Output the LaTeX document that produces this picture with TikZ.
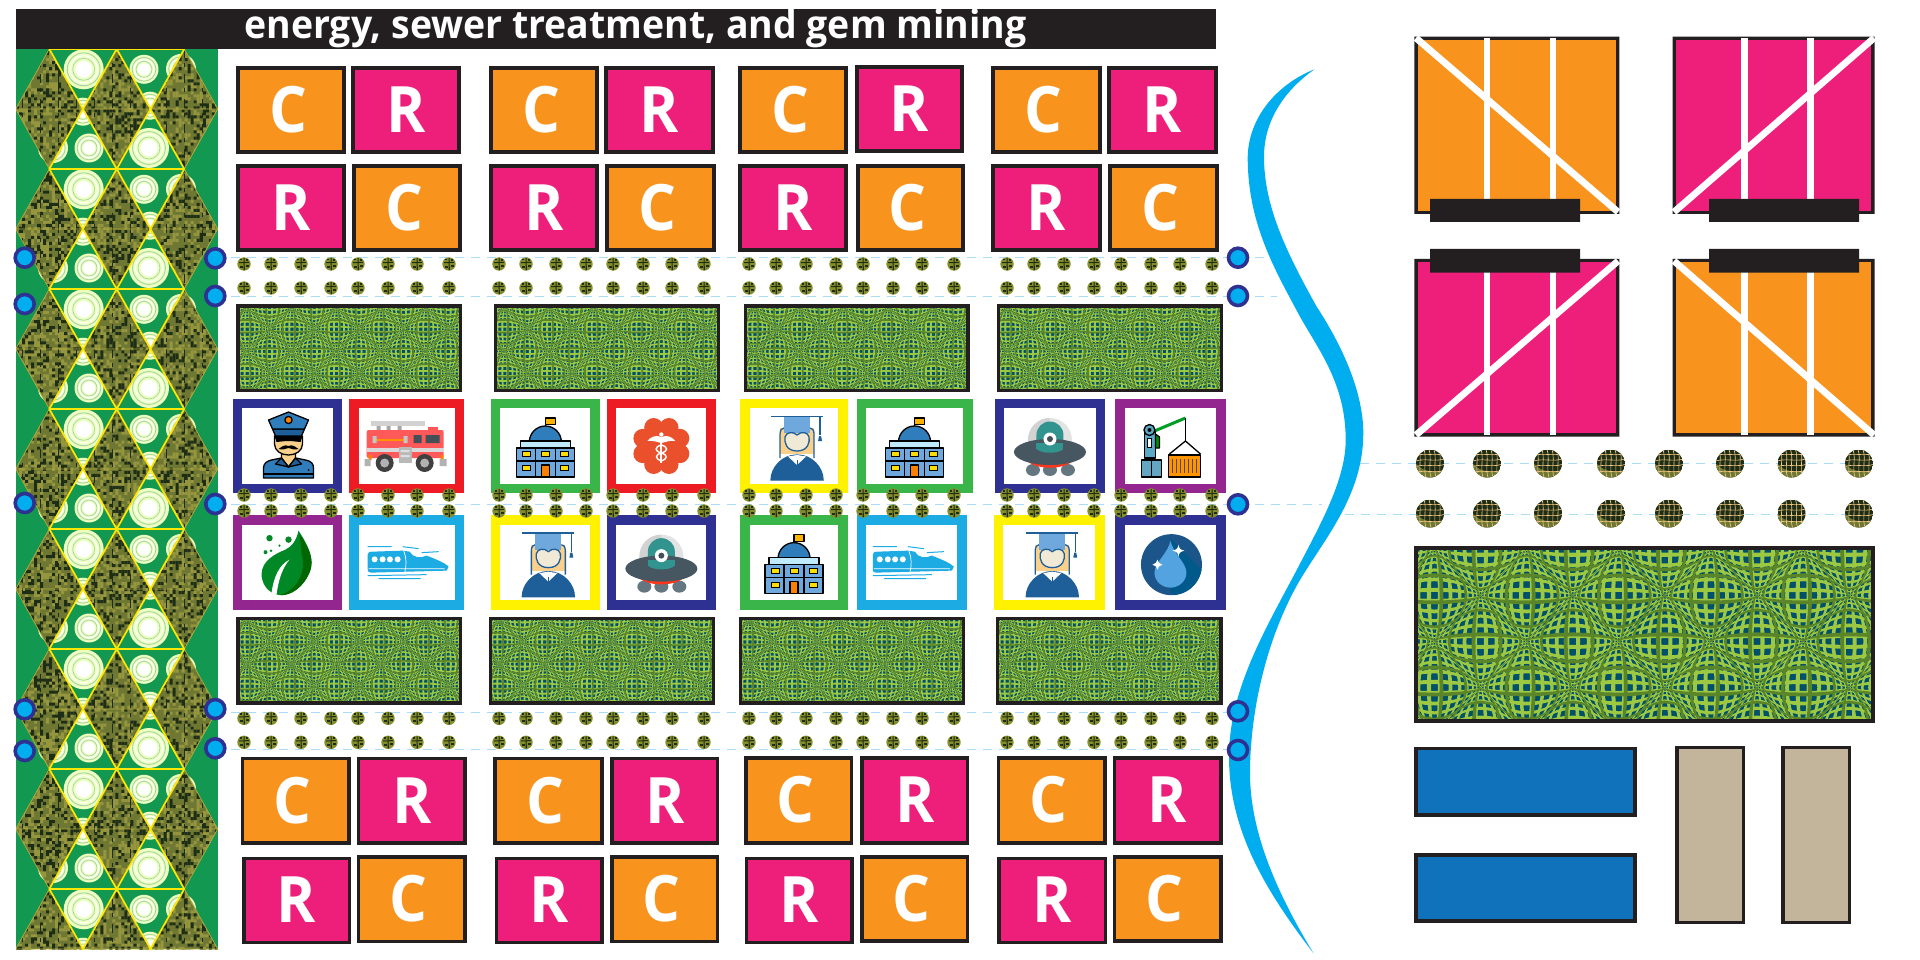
\documentclass[tikz,border=0pt]{standalone}
\usepackage{fontspec}
\setmainfont{Open Sans}
\definecolor{ink}{HTML}{231F20}
\definecolor{oporange}{HTML}{F8931D}
\definecolor{oppink}{HTML}{EE1F7B}
\definecolor{opcyan}{HTML}{00AEEF}
\definecolor{opnavy}{HTML}{2E3192}
\definecolor{opred}{HTML}{ED1C24}
\definecolor{opgreen}{HTML}{39B54A}
\definecolor{opyellow}{HTML}{FFF200}
\definecolor{oppurple}{HTML}{93278F}
\definecolor{opsky}{HTML}{1CABE2}
\definecolor{bandgreen}{HTML}{129850}
\definecolor{dashblue}{HTML}{A9DDF7}
\definecolor{gridlight}{HTML}{9CC842}
\definecolor{griddark}{HTML}{5A8629}
\definecolor{gridteal}{HTML}{004F6B}
\definecolor{camobase}{HTML}{6F7833}
\definecolor{camolight}{HTML}{96963F}
\definecolor{camodark}{HTML}{1E2D16}
\definecolor{icoblue}{HTML}{2F7DBB}
\definecolor{icolite}{HTML}{6FA8DC}
\definecolor{icodeep}{HTML}{1F5F99}
\definecolor{peach}{HTML}{FBD08A}
\definecolor{ivory}{HTML}{EFE9D5}
\definecolor{optan}{HTML}{C2B59B}
\definecolor{opblock}{HTML}{0F72BA}
\definecolor{opflower}{HTML}{E9502B}
% ---------- warped grid tables
\newcount\opM \newcount\opN \newcount\opR \newcount\opT
\foreach \m in {0,...,100}{%
  \foreach \t/\f in {a/0.31,b/0.69,c/0,d/0.36,e/0.64}{%
    \pgfmathtruncatemacro\vs{round(1000*sin(25.7142857*(\m+\f)))}%
    \pgfmathtruncatemacro\vc{round(1000*cos(25.7142857*(\m+\f)))}%
    \expandafter\xdef\csname opS\t\m\endcsname{\vs}%
    \expandafter\xdef\csname opC\t\m\endcsname{\vc}%
  }%
  \expandafter\xdef\csname opUa\m\endcsname{\the\numexpr\m*429729+133216\relax}%
  \expandafter\xdef\csname opUb\m\endcsname{\the\numexpr\m*429729+296513\relax}%
  \expandafter\xdef\csname opUc\m\endcsname{\the\numexpr\m*429729\relax}%
  \expandafter\xdef\csname opUd\m\endcsname{\the\numexpr\m*429729+154702\relax}%
  \expandafter\xdef\csname opUe\m\endcsname{\the\numexpr\m*429729+275027\relax}%
}
\makeatletter
\def\opXv#1#2{\the\numexpr(-4902093+\csname opU#1\the\opM\endcsname-\opAcur*\csname opS#1\the\opM\endcsname/1000*\csname opC#2\the\opN\endcsname/1000)/6554\relax}
\def\opYv#1#2{\the\numexpr(-5996544+\csname opU#2\the\opN\endcsname-\opAcur*\csname opS#2\the\opN\endcsname/1000*\csname opC#1\the\opM\endcsname/1000)/6554\relax}
\def\opKmin{10}\def\opKmax{46}\def\opMmin{7}\def\opMmax{85}
\def\opVup{\ifnum\opN<\opKmax \advance\opN by \opStep\relax \edef\opbuf{\opbuf \opXv\opLA c \opYv\opLA c l }\expandafter\opVup\fi}
\def\opVdn{\ifnum\opN>\opKmin \advance\opN by -\opStep\relax \edef\opbuf{\opbuf \opXv\opLB c \opYv\opLB c l }\expandafter\opVdn\fi}
\def\opHup{\ifnum\opM<\opMmax \advance\opM by \opStep\relax \edef\opbuf{\opbuf \opXv c\opLA\space\opYv c\opLA\space l }\expandafter\opHup\fi}
\def\opHdn{\ifnum\opM>\opMmin \advance\opM by -\opStep\relax \edef\opbuf{\opbuf \opXv c\opLB\space\opYv c\opLB\space l }\expandafter\opHdn\fi}
\def\opflush{\edef\opx{\noexpand\pgfsys@invoke{\opbuf f}}\opx}
\def\opVbars{\ifnum\opM<86
   \opN=\opKmin\relax
   \edef\opbuf{\opXv\opLA c \opYv\opLA c m }\opVup
   \edef\opbuf{\opbuf \opXv\opLB c \opYv\opLB c l }\opVdn
   \opflush
   \advance\opM by \opInc\relax \expandafter\opVbars\fi}
\def\opHbars{\ifnum\opN<44
   \opM=\opMmin\relax
   \edef\opbuf{\opXv c\opLA\space\opYv c\opLA\space m }\opHup
   \edef\opbuf{\opbuf \opXv c\opLB\space\opYv c\opLB\space l }\opHdn
   \opflush
   \advance\opN by \opInc\relax \expandafter\opHbars\fi}
\def\opbars{\opM=6 \opVbars \opN=11 \opHbars}
\newcommand\oppanel[5]{%
  \pgfmathsetmacro\opsx{(#3-#1-6)/454}%
  \pgfmathsetmacro\opsy{(#4-#2-6)/170.7}%
  \def\opStep{#5}%
  \begin{scope}[shift={(#1+3,#2+3)},xscale=\opsx,yscale=\opsy]
    \clip (0,0) rectangle (454,170.7);
    \fill[gridteal] (0,0) rectangle (454,170.7);
    \pgfmathsetmacro\opa{0.1*\opsx}\pgfmathsetmacro\opd{-0.1*\opsy}%
    \pgfmathsetmacro\optx{#1+3}\pgfmathsetmacro\opty{-#2-3}%
    \pgfsys@beginscope
    \pgfsys@transformcm{\opa}{0}{0}{\opd}{\optx pt}{\opty pt}%
    \pgfsetfillcolor{gridlight}\def\opInc{1}\def\opAcur{651100}\def\opLA{a}\def\opLB{b}\opbars
    \pgfsetfillcolor{griddark}\def\opInc{2}\def\opAcur{1101100}\def\opLA{d}\def\opLB{e}\opbars
    \pgfsys@endscope
  \end{scope}
  \draw[ink,line width=3.5pt] (#1+1.75,#2+1.75) rectangle (#3-1.75,#4-1.75);
}
% ---------- camouflage cells
\newcount\opSeed
\def\opnext{\opSeed=\numexpr\opSeed*25173+13849\relax
  \opT=\opSeed \divide\opT by 65536 \multiply\opT by 65536
  \advance\opSeed by -\opT
  \opR=\opSeed \divide\opR by 256 }
\def\opcamoinner{\ifnum\opN<300 \opnext
   \ifnum\opR<\opThr
     \edef\opbuf{\opbuf \the\numexpr16+3*\opM\relax\space\the\numexpr-49-3*\opN\relax\space 3 \opH\space re }%
   \fi
   \advance\opN by 1 \expandafter\opcamoinner\fi}
\def\opcamoouter{\ifnum\opM<68 \opN=0 \def\opbuf{}\opcamoinner
   \edef\opx{\noexpand\pgfsys@invoke{\opbuf f}}\opx
   \advance\opM by 1 \expandafter\opcamoouter\fi}
\makeatother
\tikzset{
  x=1pt,y=-1pt,
  orangebox/.style={draw=ink,line width=3.6pt,fill=oporange,text=white,font=\fontsize{64}{64}\selectfont\bfseries,inner sep=0pt,outer sep=0pt,execute at begin node={\hspace*{-6pt}}},
  pinkbox/.style={draw=ink,line width=3.6pt,fill=oppink,text=white,font=\fontsize{64}{64}\selectfont\bfseries,inner sep=0pt,outer sep=0pt},
  portbox/.style={circle,draw=opnavy,line width=3.6pt,fill=opcyan,minimum size=19pt,inner sep=0pt,outer sep=0pt},
  guide/.style={dashblue,line width=1pt,dash pattern=on 9pt off 7pt},
  thickyellow/.style={draw=yellow!90!orange,line width=1.7pt},
  thinyellow/.style={draw=yellow!65!black,line width=.8pt},
  iconl/.style={draw=black,line width=1.3pt,line join=round},
  smalldot/.pic={
    \fill[camobase!85!yellow] (0,0) circle (6.7pt);
    \fill[camodark] (-.5,-6)--(.6,-6)--(.8,6)--(-.3,6)--cycle;
    \fill[camodark] (-5,-1.8)--(5,-2.2)--(5,-1.2)--(-5,-.8)--cycle;
    \fill[camodark] (-4,2) rectangle (-1.5,4);
    \fill[camodark] (2,-5) rectangle (4,-3);
    \fill[camodark] (2,1) rectangle (5,3);
    \fill[camodark] (-4,-5) rectangle (-2,-3.5);
  },
  bigdot/.pic={
    \begin{scope}
    \clip (0,0) circle (14pt);
    \fill[camodark] (-14,-14) rectangle (14,14);
    \fill[camobase] (-14,14) -- (-14,0) .. controls (-10,6) and (0,10) .. (14,7) -- (14,14) -- cycle;
    \foreach \a in {-10,-5,0,5,10}{\draw[peach!90!brown,line width=.65pt] (\a-1,-14) .. controls (\a+2,-5) and (\a-2,5) .. (\a+1,14);}
    \foreach \a in {-9,-3.5,2,8}{\draw[peach!90!brown,line width=.65pt] (-14,\a+1) .. controls (-5,\a-2) and (5,\a+2) .. (14,\a-1);}
    \end{scope}
  },
  swirl/.pic={
    \fill[green!30!yellow!25!white] (0,0) circle (\opr pt);
    \draw[green!50!black!35!white,line width=.9pt] (0,0) circle (.82*\opr pt);
    \draw[white,line width=1pt] (0,0) circle (.68*\opr pt);
    \draw[green!50!black!35!white,line width=.7pt] (0,0) circle (.55*\opr pt);
    \fill[white] (0,0) circle (.42*\opr pt);
  },
  policeicon/.pic={
    \path[iconl,fill=icoblue] (-24,32)--(-24,22)..controls(-24,17)and(-20,15)..(-16,14)--(-6,12)--(1,21)--(8,12)--(18,14)..controls(24,15)and(26,18)..(26,22)--(26,32)--cycle;
    \path[iconl,fill=peach] (-6,4)--(8,4)--(8,12)--(1,21)--(-6,12)--cycle;
    \path[iconl,fill=icodeep] (-6,12)--(-12,18)--(-3,20)--(1,21)--cycle;
    \path[iconl,fill=icodeep] (8,12)--(14,18)--(5,20)--(1,21)--cycle;
    \draw[black,line width=1.3pt] (-24,28)--(26,28);
    \fill[black] (21,24) circle (1pt);
    \path[iconl,fill=peach] (-13,-10)--(15,-10)--(15,-2)..controls(15,5)and(8,9)..(1,9)..controls(-6,9)and(-13,5)..(-13,-2)--cycle;
    \fill[black] (-13,-10)--(15,-10)--(13,-4)--(3,-5)--(-1,-5)--(-11,-4)--cycle;
    \fill[black] (1,0)..controls(5,-2)and(8,1)..(11,3)..controls(7,4)and(4,3)..(1,2)..controls(-2,3)and(-5,4)..(-9,3)..controls(-6,1)and(-3,-2)..(1,0)--cycle;
    \path[iconl,fill=icodeep] (-15,-17)--(17,-17)--(14,-10)--(-12,-10)--cycle;
    \path[iconl,fill=icoblue] (-19,-26)--(1,-34)--(21,-26)--(17,-17)--(-15,-17)--cycle;
    \path[iconl,fill=orange] (1,-26) circle (3.6pt);
  },
  truckicon/.pic={
    \fill[gray!35] (-36,-25) rectangle (18,-20);
    \fill[gray!70] (-30,-20) rectangle (-26,-16) (-20,-20) rectangle (-16,-16) (-9,-20) rectangle (-5,-16);
    \fill[red!55!pink] (21,-19) rectangle (31,-15);
    \fill[red!65!white, rounded corners=2pt] (-40,-16) rectangle (37,12);
    \fill[gray!30] (-40,2) rectangle (37,6);
    \fill[black!75!cyan] (7,-11) rectangle (15,-3) (19,-11) rectangle (33,-3);
    \fill[orange!85!yellow] (-33,-7) rectangle (-2,-5);
    \fill[gray!45] (-34,-10) rectangle (-30,-3) (-3,-10) rectangle (1,-3);
    \fill[gray!55] (-8,1) rectangle (5,17);
    \fill[gray!25] (-6,4) rectangle (3,6) (-6,9) rectangle (3,11);
    \fill[orange] (-38,9) rectangle (-35,14) (34,9) rectangle (37,14);
    \fill[gray!60] (-42,13) rectangle (-36,20) (33,13) rectangle (40,20);
    \foreach \a in {-22,18}{\fill[black!75] (\a,17) circle (9pt); \fill[gray!60] (\a,17) circle (4.5pt);}
  },
  capitolicon/.pic={
    \draw[black,line width=1.3pt] (0,-14)--(0,-28);
    \path[iconl,fill=orange!60!yellow] (0,-28)--(10,-28)--(10,-21.5)--(0,-21.5)--cycle;
    \path[iconl,fill=icoblue] (-16,-4) arc[start angle=180,end angle=0,radius=16pt] --cycle;
    \path[iconl,fill=cyan!25] (-25,-5) rectangle (25,2);
    \path[iconl,fill=icolite] (-29,2) rectangle (29,31);
    \draw[black,line width=1.3pt] (-10,2)--(-10,31) (10,2)--(10,31) (-29,15)--(29,15);
    \path[iconl,fill=orange] (-4,19) rectangle (4,31);
    \foreach \a/\b in {-19/8,0/8,19/8,-19/22,19/22}{\path[black,fill=yellow!80!orange,draw,line width=1pt] (\a-4,\b-2.5) rectangle (\a+4,\b+2.5);}
  },
  flowericon/.pic={
    \foreach \a in {0,45,...,315}{\fill[opflower] (\a+22.5:20pt) circle (9.5pt);}
    \fill[opflower] (0,0) circle (19pt);
    \fill[white] (-1,-9) rectangle (1,17);
    \fill[white] (0,-11.5) circle (2.2pt);
    \fill[white] (0,-9) .. controls (-5,-11) and (-10,-10) .. (-14,-5) .. controls (-9,-6) and (-5,-4) .. (0,-3) -- cycle;
    \fill[white] (0,-9) .. controls (5,-11) and (10,-10) .. (14,-5) .. controls (9,-6) and (5,-4) .. (0,-3) -- cycle;
    \draw[white,line width=1.4pt] (0,-1) .. controls (7,1) and (7,5) .. (0,7) .. controls (-7,9) and (-6,13) .. (0,15);
    \draw[white,line width=1.4pt] (0,-1) .. controls (-7,1) and (-7,5) .. (0,7) .. controls (7,9) and (6,13) .. (0,15);
  },
  gradicon/.pic={
    \path[fill=peach] (-14,-18) -- (20,-18) -- (20,8) -- (-14,8) -- cycle;
    \draw[icodeep,line width=1.3pt] (-14,12)--(-14,-12) .. controls (-14,-16) and (-12,-18) .. (-10,-18) (20,12)--(20,-12) .. controls (20,-16) and (18,-18) .. (16,-18);
    \path[draw=icodeep,line width=1.3pt,fill=icodeep] (-23,34) .. controls (-23,22) and (-12,9) .. (3,9) .. controls (18,9) and (29,22) .. (29,34) -- cycle;
    \fill[white] (-6,10.5) -- (3,19) -- (12,10.5) -- (3,9) -- cycle;
    \draw[icodeep,line width=1pt] (3,14)--(3,20);
    \path[fill=icolite] (-10,-29) rectangle (16,-13);
    \path[draw=icodeep,line width=1.3pt,fill=ivory] (3,5) .. controls (-8,5) and (-10,-4) .. (-9,-9) .. controls (-8,-14) and (-1,-15) .. (3,-11) .. controls (7,-15) and (14,-14) .. (15,-9) .. controls (16,-4) and (14,5) .. (3,5) -- cycle;
    \draw[icodeep,line width=1.5pt] (-23,-29.5)--(29,-29.5) (26,-29.5)--(26,-11);
    \fill[icodeep] (25,-10)--(27,-10)--(28,-5)--(24,-5)--cycle;
  },
  ufoicon/.pic={
    \foreach \a in {-17,0,18}{\fill[black!60!cyan!60!gray] (\a,24) ellipse (7pt and 6pt);}
    \fill[red!75!orange!90!white] (-27,9) .. controls (-22,26) and (22,26) .. (27,9) -- cycle;
    \fill[gray!22] (0,-6) circle (22pt);
    \fill[gray!35] (0,-28) arc[start angle=90,end angle=270,radius=22pt] -- cycle;
    \fill[cyan!55!green!75!black] (-13.5,12) -- (-13.5,-11) arc[start angle=180,end angle=0,radius=13.5pt] -- (13.5,12) -- cycle;
    \fill[black!70!cyan] (0,6) ellipse (36pt and 13pt);
    \fill[cyan!55!green!75!black] (-13.5,-3) rectangle (13.5,3);
    \fill[cyan!55!green!75!black] (-13.5,3) .. controls (-8,8) and (8,8) .. (13.5,3) -- cycle;
    \fill[white] (0,-7) circle (6.5pt);
    \fill[black!75!cyan] (0,-7) circle (3pt);
  },
  craneicon/.pic={
    \draw[green!55!black!85!cyan,line width=3pt] (-16,-15)--(15,-28);
    \draw[black,line width=1pt] (15,-28)--(15,-5);
    \draw[black,line width=1.3pt] (-1,8)--(15,-5)--(30,8);
    \path[iconl,fill=cyan!50!gray] (-29,14) rectangle (-9,31);
    \path[iconl,fill=cyan!55!gray] (-26,-14) rectangle (-15,12);
    \path[fill=white,draw=black,line width=.8pt] (-23,-8) rectangle (-19,1);
    \path[iconl,fill=green!55!black] (-15,-12) -- (-11,-9) -- (-11,2) -- (-15,2) -- cycle;
    \path[iconl,fill=cyan!55!gray] (-21,-16) circle (5.5pt);
    \fill[black] (-21,-16) circle (2pt);
    \draw[black,line width=.8pt] (-19,14)--(-19,31);
    \path[iconl,fill=orange!85!yellow] (-2,9) rectangle (30,31);
    \foreach \a in {2,6,...,26}{\draw[black!70,line width=1.2pt] (\a,13)--(\a,27);}
  },
  leaficon/.pic={
    \fill[green!45!black!85!cyan] (11,-32) .. controls (20,-18) and (28,-4) .. (22,10) .. controls (16,24) and (4,33) .. (-7,32.5) .. controls (-14,32) and (-25,27) .. (-26,12) .. controls (-26,-2) and (-12,-9) .. (-2,-13) .. controls (4,-16) and (9,-22) .. (11,-32) -- cycle;
    \fill[green!40!black] (12,-29) .. controls (20,-16) and (28,-4) .. (22,10) .. controls (16,24) and (4,33) .. (-7,32.5) .. controls (6,28) and (20,14) .. (14,-10) -- cycle;
    \fill[white] (-16,31) .. controls (-14,14) and (-8,2) .. (2,-3) .. controls (-5,5) and (-9,17) .. (-11,32) -- cycle;
    \fill[green!45!black!85!cyan] (-18,-24.5) circle (3.2pt) (1,-23) circle (3.2pt) (-22,-10.5) circle (2pt) (-16.5,-12) circle (1.4pt) (-8,-17) circle (1.2pt);
  },
  trainicon/.pic={
    \fill[opsky] (-39,-8) .. controls (-39,-11) and (-37,-11) .. (-34,-11) -- (-4,-12) -- (3,-11) .. controls (6,-5) and (14,-4) .. (20,-7) .. controls (28,-4) and (38,0) .. (42,4) -- (40,8) -- (-36,10) .. controls (-39,10) and (-39,8) .. (-39,6) -- cycle;
    \fill[white] (-32,-3.3) circle (3pt) (-24,-3.3) circle (3pt) (-16.7,-3.3) circle (3pt) (-9,-3.3) circle (3pt);
    \draw[white,line width=.7pt] (-3,-12) .. controls (0,-5) and (0,3) .. (-2,10) (-38,6) -- (38,6);
    \draw[opsky,line width=1pt] (-39,-16)--(-15,-16) (-4,-16)--(12,-14) (15,-10)--(32,-11) (-39,13)--(20,12) (-28,16)--(14,16);
  },
  dropicon/.pic={
    \fill[icodeep!90!black] (1,2) circle (30.5pt);
    \begin{scope}
      \clip (1,2) circle (30.5pt);
      \fill[black!70!blue!65!cyan] (0,-24) -- (40,16) -- (22,40) -- (0,30) -- cycle;
    \end{scope}
    \fill[cyan!70!blue!70!white] (0,-22) .. controls (2,-10) and (16,0) .. (16,10) .. controls (16,19) and (8,25) .. (0,25) .. controls (-8,25) and (-16,19) .. (-16,10) .. controls (-16,0) and (-2,-10) .. (0,-22) -- cycle;
    \fill[white] (8,-18) .. controls (8.5,-14) and (10,-13) .. (14,-12) .. controls (10,-11) and (8.5,-10) .. (8,-6) .. controls (7.5,-10) and (6,-11) .. (2,-12) .. controls (6,-13) and (7.5,-14) .. (8,-18) -- cycle;
    \fill[white] (-13,-3) .. controls (-12.5,0) and (-11,1) .. (-8,2) .. controls (-11,3) and (-12.5,4) .. (-13,7) .. controls (-13.5,4) and (-15,3) .. (-18,2) .. controls (-15,1) and (-13.5,0) .. (-13,-3) -- cycle;
  },
}
\newcommand\opbox[7]{%
  \pgfmathsetmacro\opw{#6-#4-3.6}\pgfmathsetmacro\oph{#7-#5-3.6}%
  \node[#2box,minimum width=\opw pt,minimum height=\oph pt] (#1) at ({(#4+#6)/2},{(#5+#7)/2}) {\raisebox{1pt}{\scalebox{.93}[1]{#3}}};
}
\newcommand\opframe[6]{%
  \pgfmathsetmacro\opw{#5-#3-9.6}\pgfmathsetmacro\oph{#6-#4-9.6}%
  \node[draw=#2,fill=white,line width=9.6pt,inner sep=0pt,outer sep=0pt,minimum width=\opw pt,minimum height=\oph pt] (#1) at ({(#3+#5)/2},{(#4+#6)/2}) {};
}
\begin{document}
\begin{tikzpicture}
\useasboundingbox (0,0) rectangle (1920,960);
\fill[white] (0,0) rectangle (1920,960);
% ---- guide anchors
\coordinate (g1a) at (215.3,257.7); \coordinate (g1b) at (1268,257.7);
\coordinate (g2a) at (215.3,296);   \coordinate (g2b) at (1277,296);
\coordinate (g3a) at (215.3,504);   \coordinate (g3b) at (1322,504);
\coordinate (g4a) at (215.3,712);   \coordinate (g4b) at (1238,712);
\coordinate (g5a) at (215.3,749);   \coordinate (g5b) at (1238,749);
\coordinate (g6a) at (1360,463.5);  \coordinate (g6b) at (1859,463.5);
\coordinate (g7a) at (1345,514);    \coordinate (g7b) at (1859,514);
\foreach \k in {1,...,7}{\draw[guide] (g\k a) -- (g\k b);}
% ---- left band
\begin{scope}
  \clip (16,49) rectangle (218,949);
  \fill[bandgreen] (16,49) rectangle (218,949);
  \foreach \j in {0,...,7}{
    \pgfmathsetmacro\ty{49+120*\j}
    \begin{scope}[shift={(0,\ty)}]
      \foreach \cx/\cy/\rr in {83.7/20.3/20,144/20.3/14.5,181/20/15,89/99/14.5,53/99/15,149/99/20,83/62.7/14,150/56.7/14}{
        \def\opr{\rr}
        \pic at (\cx,\cy) {swirl};
      }
    \end{scope}
  }
  \begin{scope}
    \clip \foreach \j in {0,...,7}{\foreach \c in {49.3,116.7,184.3}{
      (\c,{49+120*\j}) -- (\c+33.5,{109+120*\j}) -- (\c,{169+120*\j}) -- (\c-33.5,{109+120*\j}) -- cycle }};
    \fill[camobase] (16,49) rectangle (218,949);
    \opSeed=4711 \opM=0 \def\opThr{95}\def\opH{-3}\pgfsetfillcolor{camolight}\opcamoouter
    \opSeed=977 \opM=0 \def\opThr{58}\def\opH{-3}\pgfsetfillcolor{camodark}\opcamoouter
    \foreach \a in {22,40,58,76,94,112,130,148,166,184,202}{\draw[camodark,line width=1pt,dash pattern=on 9pt off 5pt on 4pt off 7pt] (\a,49) -- (\a,949);}
  \end{scope}
  \foreach \j in {0,...,7}{
    \pgfmathsetmacro\ty{49+120*\j}
    \begin{scope}[shift={(0,\ty)}]
      \draw[thinyellow] (49.3,0)--(15.7,60)--(49.3,120) (184.3,0)--(217.7,60)--(184.3,120) (15.7,60)--(217.7,60);
      \draw[thickyellow] (49.3,0)--(184.3,0) (49.3,0)--(116.7,120) (116.7,0)--(49.3,120) (116.7,0)--(184.3,120) (184.3,0)--(116.7,120);
    \end{scope}
  }
\end{scope}
% ---- title
\node[fill=ink,inner sep=0pt,outer sep=0pt,minimum width=1200pt,minimum height=40pt] (titlebar) at (616,29) {};
\node[text=white,font=\fontsize{39}{39}\selectfont\bfseries,inner sep=0pt] (titletext) at (635.5,28) {\scalebox{.96}[1]{energy, sewer treatment, and gem mining}};
% ---- C R boxes top
\opbox{a1}{orange}{C}{236}{66}{346}{154}   \opbox{a2}{pink}{R}{351}{66}{461}{154}
\opbox{a3}{orange}{C}{489}{66}{599}{154}   \opbox{a4}{pink}{R}{604}{66}{715}{154}
\opbox{a5}{orange}{C}{738}{66}{848}{154}   \opbox{a6}{pink}{R}{855}{65}{964}{153}
\opbox{a7}{orange}{C}{991}{66}{1102}{154}  \opbox{a8}{pink}{R}{1107}{66}{1218}{154}
\opbox{b1}{pink}{R}{236}{164}{346}{252}    \opbox{b2}{orange}{C}{352}{164}{462}{252}
\opbox{b3}{pink}{R}{489}{164}{599}{252}    \opbox{b4}{orange}{C}{605}{164}{716}{252}
\opbox{b5}{pink}{R}{738}{164}{848}{252}    \opbox{b6}{orange}{C}{856}{164}{965}{252}
\opbox{b7}{pink}{R}{991}{164}{1102}{252}   \opbox{b8}{orange}{C}{1108}{164}{1219}{252}
% ---- C R boxes bottom
\opbox{c1}{orange}{C}{240.6}{756.7}{350.6}{845} \opbox{c2}{pink}{R}{356.6}{756.7}{466.7}{845}
\opbox{c3}{orange}{C}{493.2}{756.7}{604}{845}   \opbox{c4}{pink}{R}{610}{756.7}{719.3}{845}
\opbox{c5}{orange}{C}{743.9}{756}{853.3}{844.5} \opbox{c6}{pink}{R}{860}{756}{969.3}{844.5}
\opbox{c7}{orange}{C}{996.5}{756}{1106.6}{844.5}\opbox{c8}{pink}{R}{1112.6}{756}{1222.6}{844.5}
\opbox{d1}{pink}{R}{241.9}{856.7}{351.3}{944.3} \opbox{d2}{orange}{C}{356.6}{855.3}{466.7}{943.3}
\opbox{d3}{pink}{R}{494.5}{856.7}{604}{944.3}   \opbox{d4}{orange}{C}{610}{855.3}{719.3}{943.3}
\opbox{d5}{pink}{R}{744.5}{856.7}{854}{944.3}   \opbox{d6}{orange}{C}{860}{855}{969.3}{942.5}
\opbox{d7}{pink}{R}{997.2}{856.7}{1107.3}{944.3}\opbox{d8}{orange}{C}{1112.6}{855}{1222.6}{942.5}
% ---- small dots
\foreach \r in {264,288,718.3,742.3}{
  \foreach \s in {244,499,749,1007}{
    \foreach \o in {0,27,57,87,114,144,173,205}{
      \pic at ({\s+\o},\r) {smalldot};
    }
  }
}
% ---- panels
\oppanel{236}{304}{462}{392}{2}
\oppanel{493.6}{304}{720}{392}{2}
\oppanel{743.7}{304}{969.6}{392}{2}
\oppanel{996.7}{304}{1223}{392}{2}
\oppanel{236}{616.7}{462}{704.7}{2}
\oppanel{488.6}{616.7}{715.4}{704.7}{2}
\oppanel{738.6}{616.7}{965.4}{704.7}{2}
\oppanel{995.9}{616.7}{1222.6}{704.7}{2}
\oppanel{1414.4}{546}{1874.5}{722.7}{1}
% ---- icon frames
\opframe{f1}{opnavy}{232.7}{398.7}{342.3}{493.3}
\opframe{f2}{opred}{349}{398.7}{464.3}{493.3}
\opframe{f3}{opgreen}{490.7}{398.7}{600}{493.3}
\opframe{f4}{opred}{606.7}{398.7}{716}{493.3}
\opframe{f5}{opyellow}{740.3}{398.7}{847.8}{493.3}
\opframe{f6}{opgreen}{856.6}{398.7}{972.5}{493.3}
\opframe{f7}{opnavy}{994.5}{398.7}{1105.4}{493.3}
\opframe{f8}{oppurple}{1114.9}{398.7}{1226}{493.3}
\opframe{h1}{oppurple}{232.7}{515.3}{342.3}{610}
\opframe{h2}{opsky}{349}{515.3}{464.3}{610}
\opframe{h3}{opyellow}{490.7}{515.3}{600}{610}
\opframe{h4}{opnavy}{606.7}{515.3}{716}{610}
\opframe{h5}{opgreen}{740.3}{515.3}{847.8}{610}
\opframe{h6}{opsky}{856.6}{515.3}{967}{610}
\opframe{h7}{opyellow}{993.5}{515.3}{1105}{610}
\opframe{h8}{opnavy}{1114.9}{515.3}{1226}{610}
\pic at (f1) {policeicon};
\pic at (f2) {truckicon};
\pic at (f3) {capitolicon};
\pic at (f4) {flowericon};
\pic at (f5) {gradicon};
\pic at (f6) {capitolicon};
\pic at (f7) {ufoicon};
\pic at (f8) {craneicon};
\pic at (h1) {leaficon};
\pic at (h2) {trainicon};
\pic at (h3) {gradicon};
\pic at (h4) {ufoicon};
\pic at (h5) {capitolicon};
\pic at (h6) {trainicon};
\pic at (h7) {gradicon};
\pic at (h8) {dropicon};
% dots over the frame edges
\foreach \r in {495,511}{
  \foreach \s in {244,499,749,1007}{
    \foreach \o in {0,27,57,87,114,144,173,205}{
      \pic at ({\s+\o},\r) {smalldot};
    }
  }
}
% ---- blue brace
\fill[opcyan] (1314.5,69.3) .. controls (1275,85) and (1247,120) .. (1247.7,160)
  .. controls (1248.5,225) and (1275,270) .. (1300,316.7)
  .. controls (1320,352) and (1345.7,385) .. (1345.7,440)
  .. controls (1345.7,480) and (1320,525) .. (1296.7,570)
  .. controls (1265,630) and (1229,690) .. (1229,756.7)
  .. controls (1229,830) and (1265,890) .. (1313.5,953.3)
  .. controls (1275,890) and (1250,830) .. (1250,773)
  .. controls (1250,715) and (1265,640) .. (1300,580)
  .. controls (1325,538) and (1363.3,495) .. (1363.3,433)
  .. controls (1363.3,395) and (1345,350) .. (1316.7,306.7)
  .. controls (1285,250) and (1264,205) .. (1264,156.7)
  .. controls (1264,120) and (1285,90) .. (1314.5,69.3) -- cycle;
% ---- ports
\foreach \n/\x/\y in {p1/24.7/257.7,p2/24.7/304,p3/24.7/503,p4/24.7/709.3,p5/24.7/751,
  p6/215.3/258.3,p7/215.3/296,p8/215.3/504,p9/215.3/709,p10/215.3/748.3,
  p11/1238/257.7,p12/1238/296,p13/1238/504.3,p14/1238/711.3,p15/1238/750}{
  \node[portbox] (\n) at (\x,\y) {};
}
% ---- right squares
\fill[ink] (1414.4,36.7) rectangle (1619.3,214) (1672.7,36.7) rectangle (1874.5,214) (1414.4,259) rectangle (1619.3,436.7) (1672.7,259) rectangle (1874.5,436.7);
\fill[oporange] (1417.7,40) rectangle (1616,210.7);
\fill[oppink] (1676,40) rectangle (1871.2,210.7);
\fill[oppink] (1417.7,262.3) rectangle (1616,433.4);
\fill[oporange] (1676,262.3) rectangle (1871.2,433.4);
\begin{scope}[white,line width=6.8pt]
  \draw (1487,38.5)--(1487,205) (1553,38.5)--(1553,205) (1744.7,38.5)--(1744.7,205) (1810.8,38.5)--(1810.8,205);
  \draw (1487,265)--(1487,435) (1553,265)--(1553,435) (1744.7,265)--(1744.7,435) (1810.8,265)--(1810.8,435);
  \draw (1416,38)--(1618,212) (1874,38)--(1674,212) (1416,435)--(1618,261) (1674,261)--(1874,435);
\end{scope}
\fill[ink] (1430,199) rectangle (1580,222) (1709,199) rectangle (1859,222) (1430,249) rectangle (1580,272.7) (1709,249) rectangle (1859,272.7);
% ---- big dots
\foreach \r in {463.5,513.5}{\foreach \x in {1430,1487,1548,1611,1669,1730,1791.5,1859}{\pic at (\x,\r) {bigdot};}}
% ---- bottom right blocks
\path[draw=ink,line width=3.3pt,fill=opblock] (1416,748.4) rectangle (1634.9,815);
\path[draw=ink,line width=3.3pt,fill=opblock] (1416,855) rectangle (1634.9,921);
\path[draw=ink,line width=3.3pt,fill=optan] (1677.1,747.4) rectangle (1743.4,922.3);
\path[draw=ink,line width=3.3pt,fill=optan] (1783.1,747.4) rectangle (1849.8,922.3);
\end{tikzpicture}
\end{document}
